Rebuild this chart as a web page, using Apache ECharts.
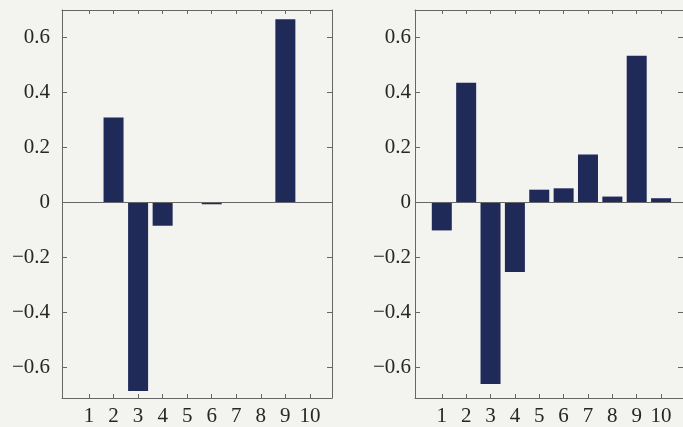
<!DOCTYPE html>
<html>
<head>
<meta charset="utf-8">
<script src="https://cdn.jsdelivr.net/npm/echarts@6/dist/echarts.min.js"></script>
<style>
  html, body { margin: 0; padding: 0; background: #f3f3ef; }
  #chart { width: 683px; height: 427px; }
</style>
</head>
<body>
<div id="chart"></div>
<script>
// categories along x, and the two bar series
var categories = [1, 2, 3, 4, 5, 6, 7, 8, 9, 10];
var leftValues = [0, 0.309, -0.685, -0.084, 0, -0.006, 0, 0, 0.666, 0];
var rightValues = [-0.101, 0.436, -0.659, -0.252, 0.047, 0.052, 0.175, 0.022, 0.534, 0.016];
var yTicks = [-0.6, -0.4, -0.2, 0, 0.2, 0.4, 0.6];

var frameColor = '#666666';
var textColor = '#262626';
var barColor = '#1f2a58';
var font = 'Liberation Serif';

function fmtY(v) {
	if (v < 0) return '\u2212' + Math.abs(v);
	return String(v);
}

function pairs(vals) {
	return categories.map(function(c, i) { return [c, vals[i]]; });
}

// one x axis (bottom or top) for grid g
function xAx(g, pos) {
	return {
		type: 'value', gridIndex: g, position: pos,
		min: -0.1, max: 10.9,
		splitLine: { show: false },
		axisLine: { show: true, onZero: false, lineStyle: { color: frameColor, width: 1 } },
		axisTick: { show: true, inside: true, length: 4, customValues: categories, lineStyle: { color: frameColor } },
		axisLabel: {
			show: pos === 'bottom', customValues: categories, margin: 8,
			fontFamily: font, fontSize: 21, color: textColor
		}
	};
}

// one y axis (left or right) for grid g
function yAx(g, pos, margin) {
	return {
		type: 'value', gridIndex: g, position: pos,
		min: -0.71, max: 0.70,
		splitLine: { show: false },
		axisLine: { show: true, onZero: false, lineStyle: { color: frameColor, width: 1 } },
		axisTick: { show: true, inside: true, length: 5, customValues: yTicks, lineStyle: { color: frameColor } },
		axisLabel: {
			show: pos === 'left', customValues: yTicks, margin: margin,
			fontFamily: font, fontSize: 21, color: textColor,
			formatter: fmtY
		}
	};
}

function barSeries(g, vals) {
	return {
		type: 'bar', xAxisIndex: g * 2, yAxisIndex: g * 2,
		data: pairs(vals),
		barWidth: 20,
		itemStyle: { color: barColor },
		silent: true,
		markLine: {
			silent: true, symbol: 'none',
			label: { show: false },
			lineStyle: { color: frameColor, type: 'solid', width: 1 },
			data: [{ yAxis: 0 }]
		}
	};
}

var option = {
	backgroundColor: '#f3f3ef',
	animation: false,
	grid: [
		{ left: 62, top: 10, width: 270, height: 389 },
		{ left: 415, top: 10, width: 270, height: 389 }
	],
	xAxis: [xAx(0, 'bottom'), xAx(0, 'top'), xAx(1, 'bottom'), xAx(1, 'top')],
	yAxis: [yAx(0, 'left', 12), yAx(0, 'right', 8), yAx(1, 'left', 4), yAx(1, 'right', 8)],
	series: [barSeries(0, leftValues), barSeries(1, rightValues)]
};

var myChart = echarts.init(document.getElementById('chart'));
myChart.setOption(option);
</script>
</body>
</html>
